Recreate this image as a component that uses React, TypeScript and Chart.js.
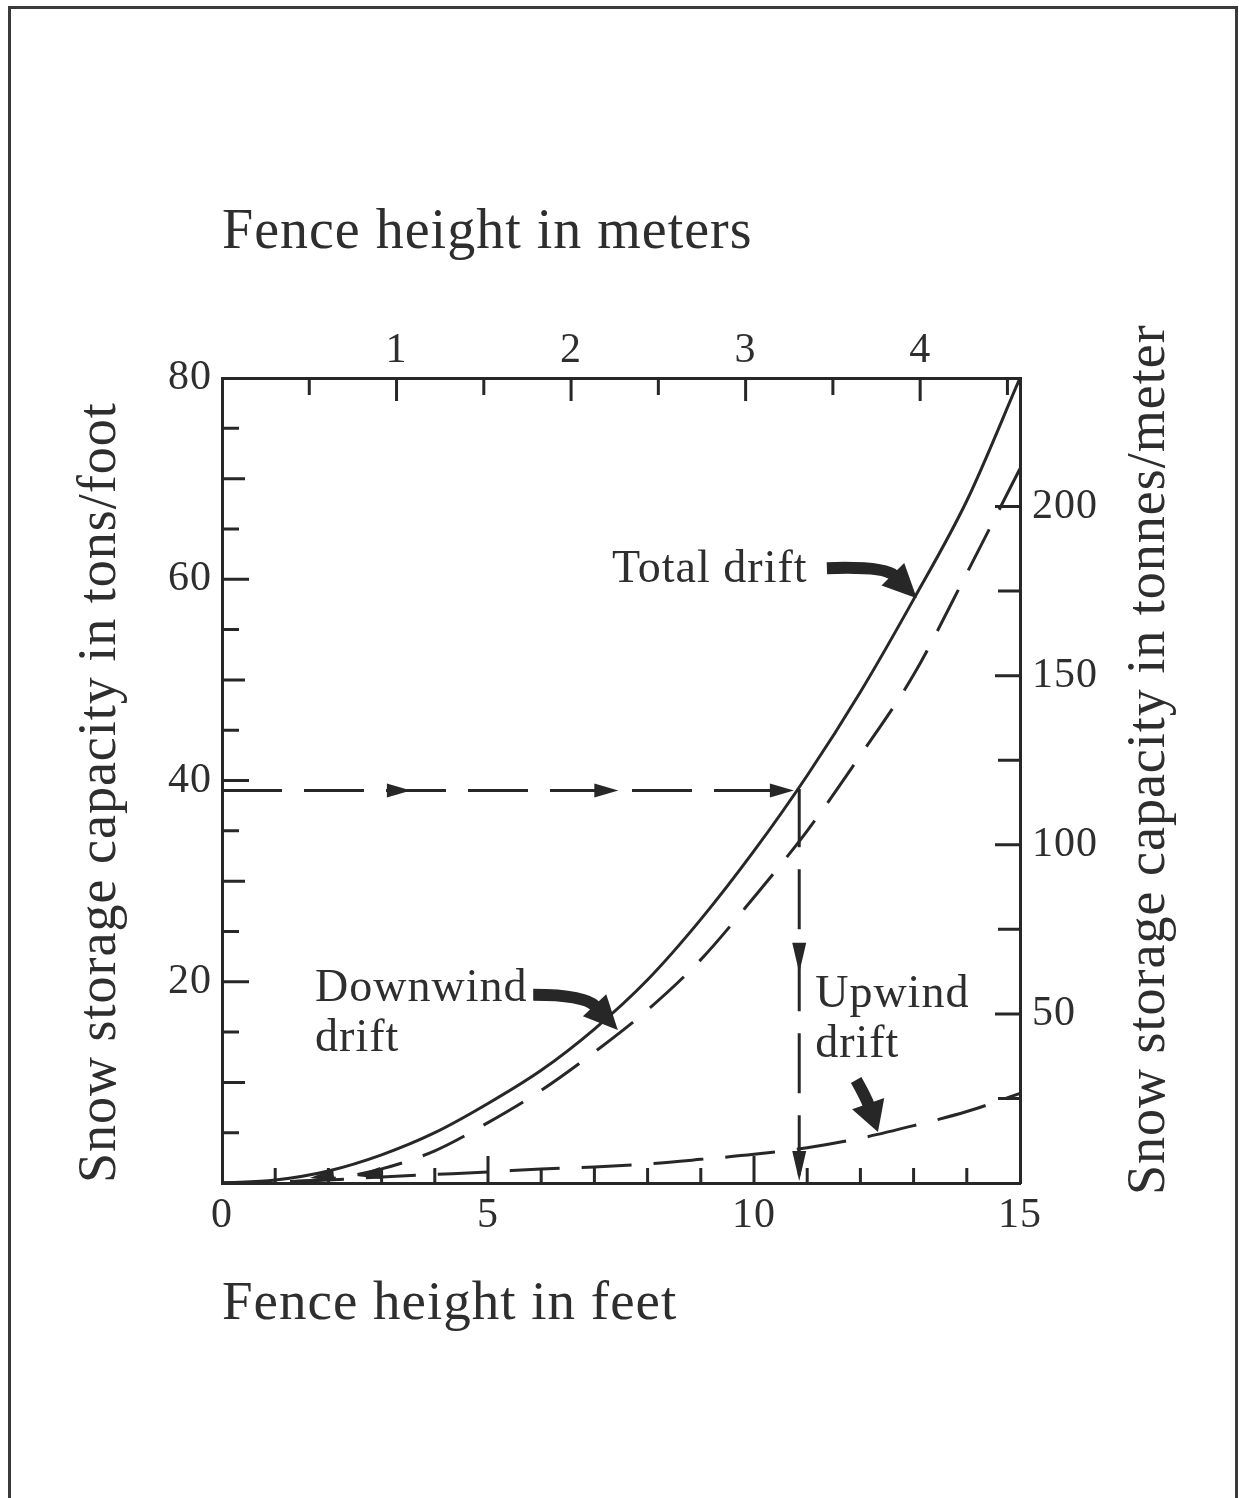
import React, { useEffect, useRef } from 'react';
import { Chart, registerables } from 'chart.js';

Chart.register(...registerables);

// ---------- data ----------
const fenceFeet = [0, 1, 2, 3, 4, 5, 6, 7, 8, 9, 10, 11, 12, 13, 14, 15];
const totalDrift = [0, 0.3, 1.2, 2.8, 5.0, 7.9, 11.2, 15.3, 20.2, 26.2, 33.0, 40.5, 48.8, 58.0, 67.8, 80.0];
const downwindDrift = [0, 0.1, 0.4, 1.4, 3.2, 6.0, 9.2, 13.0, 17.2, 22.2, 28.4, 35.0, 42.5, 50.5, 60.6, 71.0];
const upwindDrift = [0, 0.1, 0.3, 0.6, 0.85, 1.1, 1.4, 1.6, 1.9, 2.35, 2.85, 3.5, 4.45, 5.7, 7.1, 8.9];

// example reading: 39 tons/foot -> 10.85 ft fence
const guideFeet = [0, 10.85, 10.85];
const guideTons = [39, 39, 0];
const guideArrowRightFeet = [3.55, 7.45, 10.75];
const guideArrowDownTons = [20.9, 0.2];
const backArrowFeet = [1.65, 2.53];
const backArrowTons = [0.5, 0.7];

// axis tick labels
const feetLabels = [0, 5, 10, 15];
const metersLabels = [1, 2, 3, 4];
const tonsFootLabels = [20, 40, 60, 80];
const tonnesMeterLabels = [50, 100, 150, 200];

// tick marks
const feetMarks = [1, 2, 3, 4, 5, 6, 7, 8, 9, 10, 11, 12, 13, 14];
const metersMarks = [0.5, 1, 1.5, 2, 2.5, 3, 3.5, 4, 4.5];
const tonsFootMarks = [5, 10, 15, 20, 25, 30, 35, 40, 45, 50, 55, 60, 65, 70, 75];
const tonnesMeterMarks = [25, 50, 75, 100, 125, 150, 175, 200];

const FEET_MAX = 15;
const METERS_MAX = 4.572;
const TONS_MAX = 80;
const TONNES_MAX = 238;

// annotation texts
const totalLabel = ['Total drift'];
const downwindLabel = ['Downwind', 'drift'];
const upwindLabel = ['Upwind', 'drift'];

// ---------- styling ----------
const INK = '#272727';
const TEXT = '#2e2e2e';
const FAMILY = "'Liberation Serif', 'Times New Roman', Times, serif";

const toPts = (xs: number[], ys: number[]) => xs.map((x, i) => ({ x, y: ys[i] }));

function tri(ctx: CanvasRenderingContext2D, tx: number, ty: number, ux: number, uy: number, len: number, half: number) {
  const bx = tx - ux * len;
  const by = ty - uy * len;
  ctx.beginPath();
  ctx.moveTo(tx, ty);
  ctx.lineTo(bx - uy * half, by + ux * half);
  ctx.lineTo(bx + uy * half, by - ux * half);
  ctx.closePath();
  ctx.fill();
}

function curvedArrow(ctx: CanvasRenderingContext2D, S: number[], C: number[], T: number[], w: number, headLen: number, half: number) {
  const dx = T[0] - C[0];
  const dy = T[1] - C[1];
  const d = Math.hypot(dx, dy);
  const ux = dx / d;
  const uy = dy / d;
  const E = [T[0] - ux * (headLen - 2), T[1] - uy * (headLen - 2)];
  ctx.lineWidth = w;
  ctx.lineCap = 'butt';
  ctx.beginPath();
  ctx.moveTo(S[0], S[1]);
  ctx.quadraticCurveTo(C[0], C[1], E[0], E[1]);
  ctx.stroke();
  tri(ctx, T[0], T[1], ux, uy, headLen, half);
}

const framePlugin = {
  id: 'frame',
  beforeDraw(chart: any) {
    const ctx = chart.ctx as CanvasRenderingContext2D;
    ctx.save();
    ctx.fillStyle = '#ffffff';
    ctx.fillRect(0, 0, chart.width, chart.height);
    ctx.strokeStyle = '#3a3a3a';
    ctx.lineWidth = 3;
    ctx.beginPath();
    ctx.moveTo(9.5, chart.height);
    ctx.lineTo(9.5, 7.5);
    ctx.lineTo(1236.5, 7.5);
    ctx.lineTo(1236.5, chart.height);
    ctx.stroke();
    ctx.restore();
    (ctx as any).letterSpacing = '1px';
  },
};

const marksPlugin = {
  id: 'marks',
  afterDatasetsDraw(chart: any) {
    const ctx = chart.ctx as CanvasRenderingContext2D;
    const a = chart.chartArea;
    const { x, y, xTop, yRight } = chart.scales;
    const P = (fx: number, ty: number) => [x.getPixelForValue(fx), y.getPixelForValue(ty)];
    ctx.save();
    ctx.strokeStyle = INK;
    ctx.fillStyle = INK;
    ctx.lineWidth = 3;
    ctx.lineCap = 'butt';
    // inward tick marks
    ctx.beginPath();
    tonsFootMarks.forEach((v) => {
      const py = y.getPixelForValue(v);
      const len = v % 20 === 0 ? 27 : v % 10 === 0 ? 23 : 17;
      ctx.moveTo(a.left, py);
      ctx.lineTo(a.left + len, py);
    });
    feetMarks.forEach((v) => {
      const pxv = x.getPixelForValue(v);
      const len = v % 5 === 0 ? 27 : 15;
      ctx.moveTo(pxv, a.bottom);
      ctx.lineTo(pxv, a.bottom - len);
    });
    metersMarks.forEach((v) => {
      const pxv = xTop.getPixelForValue(v);
      const len = Number.isInteger(v) ? 23 : 17;
      ctx.moveTo(pxv, a.top);
      ctx.lineTo(pxv, a.top + len);
    });
    tonnesMeterMarks.forEach((v) => {
      const py = yRight.getPixelForValue(v);
      const len = v % 50 === 0 ? 25 : 22;
      ctx.moveTo(a.right, py);
      ctx.lineTo(a.right - len, py);
    });
    ctx.stroke();

    // arrowheads on the guide line
    guideArrowRightFeet.forEach((f) => {
      const [tx, ty] = P(f, guideTons[0]);
      tri(ctx, tx, ty, 1, 0, 24, 7);
    });
    guideArrowDownTons.forEach((t) => {
      const [tx, ty] = P(guideFeet[1], t);
      tri(ctx, tx, ty, 0, 1, 30, 7);
    });
    backArrowFeet.forEach((f, i) => {
      const [tx, ty] = P(f, backArrowTons[i]);
      tri(ctx, tx, ty, -1, 0.12, 24, 6);
    });

    // curved pointer arrows
    curvedArrow(ctx, P(11.37, 61.1), P(12.46, 61.3), P(13.06, 58.1), 12, 34, 16);
    curvedArrow(ctx, P(5.85, 18.7), P(6.82, 18.7), P(7.44, 15.2), 12, 34, 16);
    curvedArrow(ctx, P(11.92, 10.24), P(12.11, 8.45), P(12.33, 5.07), 12, 30, 17);

    // annotation texts
    ctx.fillStyle = TEXT;
    ctx.font = `46px ${FAMILY}`;
    ctx.textAlign = 'left';
    ctx.textBaseline = 'middle';
    {
      const [tx, ty] = P(7.33, 60.9);
      ctx.fillText(totalLabel[0], tx, ty);
    }
    downwindLabel.forEach((s, i) => {
      const [tx, ty] = P(1.75, 19.3 - i * 4.95);
      ctx.fillText(s, tx, ty);
    });
    upwindLabel.forEach((s, i) => {
      const [tx, ty] = P(11.15, 18.7 - i * 4.95);
      ctx.fillText(s, tx, ty);
    });

    // right axis title (reads bottom to top)
    ctx.font = `54px ${FAMILY}`;
    ctx.translate(1150, 1195);
    ctx.rotate(-Math.PI / 2);
    ctx.fillText('Snow storage capacity in tonnes/meter', 0, 0);
    ctx.restore();
  },
};

const tickFont = { family: FAMILY, size: 42 };

export default function App() {
  const ref = useRef<HTMLCanvasElement>(null);
  useEffect(() => {
    if (!ref.current) return;
    const lineBase = {
      xAxisID: 'x',
      yAxisID: 'y',
      borderColor: INK,
      borderWidth: 3,
      pointRadius: 0,
      fill: false,
    };
    const chart = new Chart(ref.current, {
      type: 'line',
      data: {
        datasets: [
          { ...lineBase, label: 'Total drift', data: toPts(fenceFeet, totalDrift), cubicInterpolationMode: 'monotone' },
          { ...lineBase, label: 'Downwind drift', data: toPts(fenceFeet, downwindDrift), cubicInterpolationMode: 'monotone', borderDash: [46, 22] },
          { ...lineBase, label: 'Upwind drift', data: toPts(fenceFeet, upwindDrift), cubicInterpolationMode: 'monotone', borderDash: [50, 22] },
          { ...lineBase, label: 'Guide', data: toPts(guideFeet, guideTons), tension: 0, borderDash: [60, 22] },
        ] as any,
      },
      options: {
        animation: false,
        responsive: true,
        maintainAspectRatio: false,
        layout: { padding: 0 },
        plugins: { legend: { display: false }, tooltip: { enabled: false } },
        events: [],
        scales: {
          x: {
            type: 'linear',
            position: 'bottom',
            min: 0,
            max: FEET_MAX,
            afterBuildTicks: (s: any) => { s.ticks = feetLabels.map((v) => ({ value: v })); },
            afterFit: (s: any) => { s.height = 315; },
            grid: { display: false, drawTicks: false },
            border: { display: true, width: 3, color: INK },
            ticks: { font: tickFont, color: TEXT, padding: 8, maxRotation: 0, autoSkip: false },
            title: {
              display: true,
              text: 'Fence height in feet',
              align: 'start',
              color: TEXT,
              font: { family: FAMILY, size: 55 },
              padding: { top: 0, bottom: 160 },
            },
          },
          xTop: {
            type: 'linear',
            position: 'top',
            min: 0,
            max: METERS_MAX,
            afterBuildTicks: (s: any) => { s.ticks = metersLabels.map((v) => ({ value: v })); },
            afterFit: (s: any) => { s.height = 378; },
            grid: { display: false, drawTicks: false },
            border: { display: true, width: 3, color: INK },
            ticks: { font: tickFont, color: TEXT, padding: 2, maxRotation: 0, autoSkip: false },
            title: {
              display: true,
              text: 'Fence height in meters',
              align: 'start',
              color: TEXT,
              font: { family: FAMILY, size: 56 },
              padding: { top: 200, bottom: 0 },
            },
          },
          y: {
            type: 'linear',
            position: 'left',
            min: 0,
            max: TONS_MAX,
            afterBuildTicks: (s: any) => { s.ticks = tonsFootLabels.map((v) => ({ value: v })); },
            afterFit: (s: any) => { s.width = 222; },
            grid: { display: false, drawTicks: false },
            border: { display: true, width: 3, color: INK },
            ticks: { font: tickFont, color: TEXT, padding: 10, autoSkip: false },
            title: {
              display: true,
              text: 'Snow storage capacity in tons/foot',
              align: 'start',
              color: TEXT,
              font: { family: FAMILY, size: 54 },
              padding: { top: 68, bottom: 0 },
            },
          },
          yRight: {
            type: 'linear',
            position: 'right',
            min: 0,
            max: TONNES_MAX,
            afterBuildTicks: (s: any) => { s.ticks = tonnesMeterLabels.map((v) => ({ value: v })); },
            afterFit: (s: any) => { s.width = 219; },
            grid: { display: false, drawTicks: false },
            border: { display: true, width: 3, color: INK },
            ticks: { font: tickFont, color: TEXT, padding: 12, autoSkip: false },
          },
        },
      } as any,
      plugins: [framePlugin, marksPlugin],
    });
    return () => chart.destroy();
  }, []);
  return (
    <div style={{ position: 'absolute', left: 0, top: 0, width: 1239, height: 1498, background: '#fff' }}>
      <canvas ref={ref} />
    </div>
  );
}
